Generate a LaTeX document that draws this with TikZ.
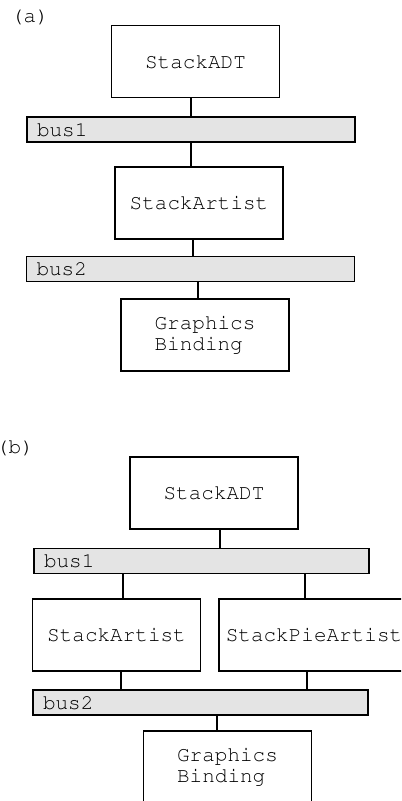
\documentclass[tikz,border=0pt]{standalone}
\usepackage[T1]{fontenc}
\usepackage{courier}
\definecolor{busgray}{RGB}{228,228,228}

\begin{document}
\begin{tikzpicture} [
        x = 0.5pt, y = -0.5pt,
        every node/.style = {font=\ttfamily\fontsize{10.5}{10.5}\selectfont},
        box/.style = {rectangle, draw, line width=0.7pt,
                     minimum width=84pt, minimum height=36pt, align=left},
        bus/.style = {rectangle, draw, line width=0.7pt, fill=busgray,
                     minimum height=12.5pt, inner ysep=0pt, inner xsep=5pt,
                     text width=#1, align=left},% inner width
        wire/.style = {line width=0.7pt}
    ]

    \clip (0,0) rectangle (401,801);

    % (a)
    \node (LblA) at (30,17) {(a)};
    \node (AdtA) [box] at (195.5,61.5) {StackADT};
    \node (BusOneA) [bus=154pt] at (191,129.5) {bus1};
    \node (ArtistA) [box] at (199,203) {StackArtist};
    \node (BusTwoA) [bus=154pt] at (190.5,269) {bus2};
    \node (BindA) [box] at (205,335) {Graphics\\Binding};

    \draw [wire] (BusOneA.north) -- (BusOneA.north |- AdtA.south);
    \draw [wire] (BusOneA.south) -- (BusOneA.south |- ArtistA.north);
    \draw [wire] ([xshift=-3pt]ArtistA.south) -- ([xshift=-3pt]ArtistA.south |- BusTwoA.north);
    \draw [wire] ([xshift=-3.5pt]BindA.north) -- ([xshift=-3.5pt]BindA.north |- BusTwoA.south);

    % (b)
    \node (LblB) at (15,448) {(b)};
    \node (AdtB) [box] at (214,493) {StackADT};
    \node (BusOneB) [bus=157.5pt] at (201.5,561) {bus1};
    \node (ArtistB) [box] at (116.5,635) {StackArtist};
    \node (PieB) [box, minimum width=95pt] at (314,635) {StackPieArtist};
    \node (BusTwoB) [bus=157.5pt] at (200.5,702.5) {bus2};
    \node (BindB) [box] at (227.5,767) {Graphics\\Binding};

    \draw [wire] ([xshift=3pt]AdtB.south) -- ([xshift=3pt]AdtB.south |- BusOneB.north);
    \draw [wire] ([xshift=3.25pt]ArtistB.north) -- ([xshift=3.25pt]ArtistB.north |- BusOneB.south);
    \draw [wire] ([xshift=-4.5pt]PieB.north) -- ([xshift=-4.5pt]PieB.north |- BusOneB.south);
    \draw [wire] ([xshift=2.25pt]ArtistB.south) -- ([xshift=2.25pt]ArtistB.south |- BusTwoB.north);
    \draw [wire] ([xshift=-3.5pt]PieB.south) -- ([xshift=-3.5pt]PieB.south |- BusTwoB.north);
    \draw [wire] ([xshift=-5.25pt]BindB.north) -- ([xshift=-5.25pt]BindB.north |- BusTwoB.south);

\end{tikzpicture}
\end{document}
